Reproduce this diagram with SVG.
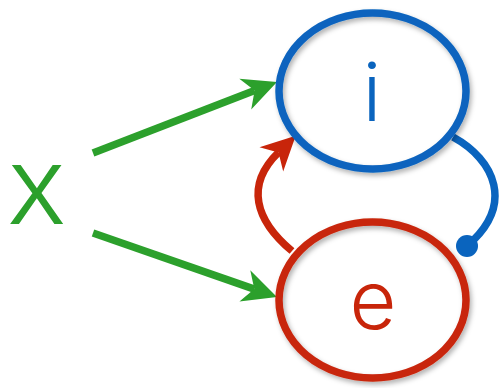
<svg xmlns="http://www.w3.org/2000/svg" width="504" height="388" viewBox="0 0 504 388">
  <style>
    .node-shape { fill: none; stroke-width: 7.5; filter: url(#shadow); }
    .lbl { font-family: "Inter", "Liberation Sans", sans-serif; font-weight: 300; font-size: 81px; text-anchor: middle; }
    .conn { fill: none; stroke-width: 7.5; }
  </style>
  <defs>
    <filter id="shadow" x="-20%" y="-20%" width="140%" height="140%">
      <feDropShadow dx="2" dy="3" stdDeviation="2.5" flood-color="#000" flood-opacity="0.3"/>
    </filter>
    <marker id="arrow-green" markerUnits="userSpaceOnUse" orient="auto" refX="-24" refY="0" markerWidth="40" markerHeight="40" overflow="visible">
      <path d="M0,0 L-34,-16.5 L-24,0 L-34,16.5 Z" fill="#2ca02c"/>
    </marker>
    <marker id="arrow-red" markerUnits="userSpaceOnUse" orient="auto" refX="-24" refY="0" markerWidth="40" markerHeight="40" overflow="visible">
      <path d="M0,0 L-34,-17 L-24,0 L-34,17 Z" fill="#c8250a"/>
    </marker>
  </defs>
  <g id="connectors">
    <path class="conn" d="M93,153 L254.6,90.6" stroke="#2ca02c" marker-end="url(#arrow-green)"/>
    <path class="conn" d="M93,233 L254.3,289.1" stroke="#2ca02c" marker-end="url(#arrow-green)"/>
    <path class="conn" d="M292,251 C255,220 245,185 278.5,152.4" stroke="#c8250a" marker-end="url(#arrow-red)"/>
    <path class="conn" d="M453,137 C495,160 515,205 467,246" stroke="#0a64be"/>
    <circle cx="467" cy="246" r="11" fill="#0a64be"/>
  </g>
  <g id="node-x">
    <text x="36.5" y="224" font-family="Liberation Sans, Arial, sans-serif" font-size="85" text-anchor="middle" fill="#2ca02c">X</text>
  </g>
  <g id="node-i">
    <ellipse class="node-shape" cx="372.5" cy="91" rx="93.5" ry="78" stroke="#0a64be"/>
    <text class="lbl" x="372" y="121" fill="#0a64be">i</text>
  </g>
  <g id="node-e">
    <ellipse class="node-shape" cx="372.5" cy="300" rx="93.5" ry="78" stroke="#c8250a"/>
    <text class="lbl" x="373" y="329" fill="#c8250a">e</text>
  </g>
</svg>
